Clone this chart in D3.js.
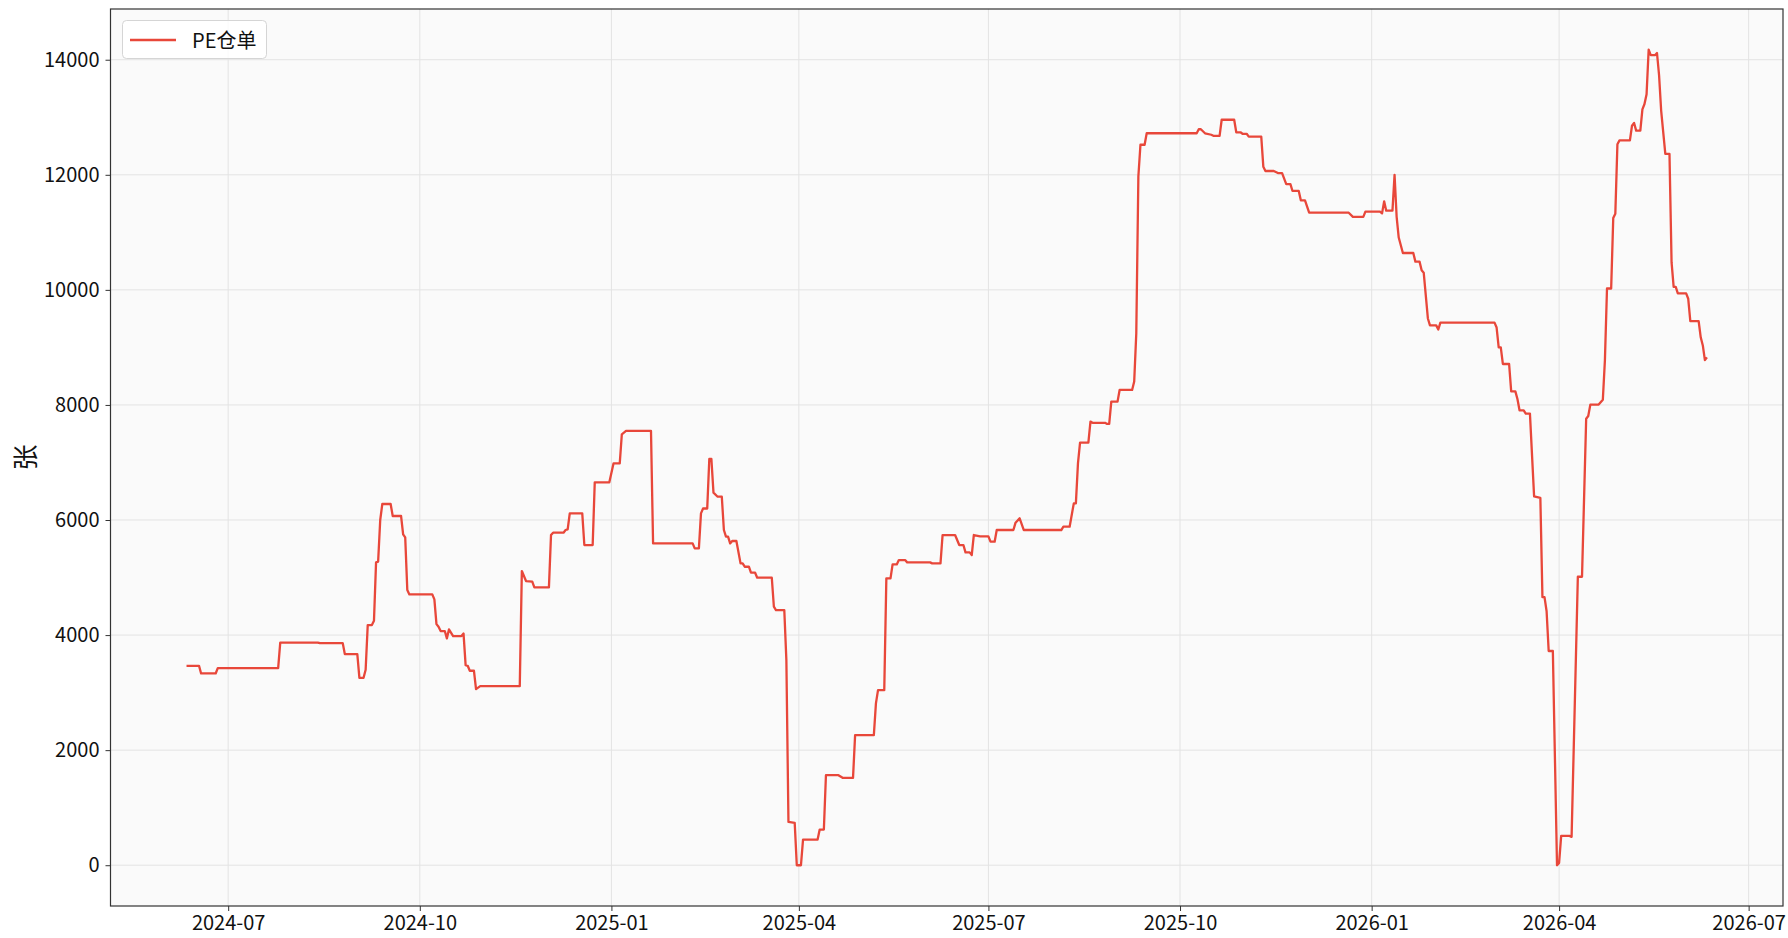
<!DOCTYPE html>
<html>
<head>
<meta charset="utf-8">
<script src="https://cdn.jsdelivr.net/npm/d3@7"></script>
<style>
  html, body { margin: 0; padding: 0; background: #ffffff; }
  svg { display: block; }
  text { font-family: "Noto Sans CJK SC", "Noto Sans", sans-serif; }
</style>
</head>
<body>
<svg id="chart" width="1788" height="938"></svg>
<script>
const seriesName = "PE仓单";
const yLabel = "张";
const dates = [
  "2024-06-11","2024-06-17","2024-06-18","2024-06-25","2024-06-26","2024-07-25","2024-07-26","2024-08-13","2024-08-14","2024-08-25",
  "2024-08-26","2024-09-01","2024-09-02","2024-09-04","2024-09-05","2024-09-06","2024-09-08","2024-09-09","2024-09-10","2024-09-11",
  "2024-09-12","2024-09-13","2024-09-17","2024-09-18","2024-09-22","2024-09-23","2024-09-24","2024-09-25","2024-09-26","2024-10-07",
  "2024-10-08","2024-10-09","2024-10-10","2024-10-11","2024-10-13","2024-10-14","2024-10-15","2024-10-17","2024-10-21","2024-10-22",
  "2024-10-23","2024-10-24","2024-10-25","2024-10-27","2024-10-28","2024-10-30","2024-11-18","2024-11-19","2024-11-21","2024-11-24",
  "2024-11-25","2024-12-02","2024-12-03","2024-12-04","2024-12-09","2024-12-10","2024-12-11","2024-12-12","2024-12-18","2024-12-19",
  "2024-12-23","2024-12-24","2024-12-31","2025-01-02","2025-01-05","2025-01-06","2025-01-08","2025-01-20","2025-01-21","2025-02-09",
  "2025-02-10","2025-02-12","2025-02-13","2025-02-14","2025-02-16","2025-02-17","2025-02-18","2025-02-19","2025-02-21","2025-02-23",
  "2025-02-24","2025-02-25","2025-02-26","2025-02-27","2025-02-28","2025-03-02","2025-03-04","2025-03-05","2025-03-06","2025-03-08",
  "2025-03-09","2025-03-11","2025-03-12","2025-03-19","2025-03-20","2025-03-21","2025-03-25","2025-03-26","2025-03-27","2025-03-30",
  "2025-03-31","2025-04-02","2025-04-03","2025-04-10","2025-04-11","2025-04-13","2025-04-14","2025-04-20","2025-04-22","2025-04-27",
  "2025-04-28","2025-05-07","2025-05-08","2025-05-09","2025-05-12","2025-05-13","2025-05-15","2025-05-16","2025-05-18","2025-05-19",
  "2025-05-22","2025-05-23","2025-06-03","2025-06-04","2025-06-08","2025-06-09","2025-06-15","2025-06-17","2025-06-19","2025-06-20",
  "2025-06-22","2025-06-23","2025-06-24","2025-06-27","2025-07-01","2025-07-02","2025-07-04","2025-07-05","2025-07-13","2025-07-14",
  "2025-07-16","2025-07-18","2025-08-05","2025-08-06","2025-08-09","2025-08-11","2025-08-12","2025-08-13","2025-08-14","2025-08-18",
  "2025-08-19","2025-08-20","2025-08-26","2025-08-27","2025-08-28","2025-08-29","2025-09-01","2025-09-02","2025-09-08","2025-09-09",
  "2025-09-10","2025-09-11","2025-09-12","2025-09-14","2025-09-15","2025-10-09","2025-10-10","2025-10-11","2025-10-13","2025-10-16",
  "2025-10-17","2025-10-20","2025-10-21","2025-10-27","2025-10-28","2025-10-30","2025-10-31","2025-11-02","2025-11-03","2025-11-09",
  "2025-11-10","2025-11-11","2025-11-15","2025-11-17","2025-11-19","2025-11-21","2025-11-23","2025-11-24","2025-11-27","2025-11-28",
  "2025-11-30","2025-12-02","2025-12-21","2025-12-23","2025-12-28","2025-12-29","2026-01-05","2026-01-06","2026-01-07","2026-01-08",
  "2026-01-11","2026-01-12","2026-01-13","2026-01-14","2026-01-16","2026-01-21","2026-01-22","2026-01-24","2026-01-25","2026-01-26",
  "2026-01-28","2026-01-29","2026-02-01","2026-02-02","2026-02-03","2026-03-01","2026-03-02","2026-03-03","2026-03-04","2026-03-05",
  "2026-03-08","2026-03-09","2026-03-11","2026-03-12","2026-03-13","2026-03-15","2026-03-16","2026-03-18","2026-03-20","2026-03-23",
  "2026-03-24","2026-03-25","2026-03-26","2026-03-27","2026-03-29","2026-03-31","2026-04-01","2026-04-02","2026-04-06","2026-04-07",
  "2026-04-10","2026-04-12","2026-04-14","2026-04-15","2026-04-16","2026-04-20","2026-04-22","2026-04-23","2026-04-24","2026-04-26",
  "2026-04-27","2026-04-28","2026-04-29","2026-04-30","2026-05-05","2026-05-06","2026-05-07","2026-05-08","2026-05-10","2026-05-11",
  "2026-05-12","2026-05-13","2026-05-14","2026-05-15","2026-05-17","2026-05-18","2026-05-19","2026-05-20","2026-05-22","2026-05-24",
  "2026-05-25","2026-05-26","2026-05-27","2026-05-28","2026-06-01","2026-06-02","2026-06-03","2026-06-07","2026-06-08","2026-06-09",
  "2026-06-10","2026-06-11"
];
const values = [
  3466,3466,3333,3333,3426,3426,3870,3870,3860,3860,
  3670,3670,3258,3258,3397,4174,4174,4249,5264,5278,
  6000,6278,6278,6070,6070,5751,5699,4783,4707,4707,
  4620,4191,4145,4070,4070,3942,4099,3983,3983,4026,
  3478,3466,3380,3380,3061,3113,3113,5113,4939,4928,
  4829,4829,5739,5780,5780,5826,5838,6116,6116,5565,
  5565,6655,6655,6983,6983,7490,7548,7548,5594,5594,
  5507,5507,6116,6200,6200,7061,7061,6475,6405,6405,
  5826,5710,5710,5594,5635,5635,5246,5246,5188,5188,
  5084,5084,4997,4997,4493,4435,4435,3565,753,736,
  0,0,446,446,620,620,1565,1565,1519,1519,
  2261,2261,2812,3043,3043,4986,4986,5228,5228,5304,
  5304,5264,5264,5246,5246,5739,5739,5565,5565,5438,
  5438,5391,5739,5716,5716,5623,5623,5826,5826,5951,
  6029,5826,5826,5884,5884,6290,6290,6985,7345,7345,
  7710,7690,7690,7670,7670,8058,8058,8261,8261,8406,
  9246,11971,12522,12522,12722,12722,12792,12792,12722,12696,
  12678,12678,12957,12957,12739,12739,12713,12713,12664,12664,
  12138,12066,12066,12030,12030,11838,11838,11719,11719,11557,
  11557,11341,11341,11269,11269,11359,11359,11329,11539,11377,
  11377,12000,11269,10910,10641,10641,10491,10491,10341,10299,
  9503,9383,9383,9311,9431,9431,9345,9000,9000,8712,
  8712,8236,8236,8104,7907,7907,7849,7849,6411,6386,
  4660,4660,4414,3723,3723,0,41,510,510,493,
  5014,5014,7761,7808,8006,8006,8091,8779,10024,10024,
  11250,11325,12532,12598,12598,12853,12900,12768,12768,13136,
  13230,13400,14173,14079,14079,14117,13730,13117,12363,12363,
  10477,10052,10052,9939,9939,9845,9458,9458,9175,9034,
  8779,8826
];
const yTicks = [0, 2000, 4000, 6000, 8000, 10000, 12000, 14000];

const parse = d3.utcParse("%Y-%m-%d");
const data = dates.map((d, i) => ({ date: parse(d), value: values[i] }));

const W = 1788, H = 938;
const margin = { left: 110.5, right: 5, top: 9, bottom: 32 };
const x0 = margin.left, x1 = W - margin.right, y0 = margin.top, y1 = H - margin.bottom;

const xExt = d3.extent(data, d => d.date);
const xSpan = xExt[1] - xExt[0];
const x = d3.scaleUtc()
  .domain([new Date(+xExt[0] - 0.05 * xSpan), new Date(+xExt[1] + 0.05 * xSpan)])
  .range([x0, x1]);
const yExt = d3.extent(values);
const ySpan = yExt[1] - yExt[0];
const y = d3.scaleLinear()
  .domain([yExt[0] - 0.05 * ySpan, yExt[1] + 0.05 * ySpan])
  .range([y1, y0]);

const svg = d3.select("#chart");
svg.append("rect").attr("x", 0).attr("y", 0).attr("width", W).attr("height", H).attr("fill", "#ffffff");
svg.append("rect").attr("x", x0).attr("y", y0).attr("width", x1 - x0).attr("height", y1 - y0).attr("fill", "#fafafa");

const xTickVals = x.ticks(d3.utcMonth.every(3));
// grid
const grid = svg.append("g");
grid.selectAll(".gx").data(xTickVals).enter().append("line")
  .attr("x1", d => x(d)).attr("x2", d => x(d)).attr("y1", y0).attr("y2", y1)
  .attr("stroke", "#e3e3e3").attr("stroke-width", 1);
grid.selectAll(".gy").data(yTicks).enter().append("line")
  .attr("x1", x0).attr("x2", x1).attr("y1", d => y(d)).attr("y2", d => y(d))
  .attr("stroke", "#e3e3e3").attr("stroke-width", 1);

// line
const line = d3.line().x(d => x(d.date)).y(d => y(d.value));
svg.append("path").datum(data).attr("d", line)
  .attr("fill", "none").attr("stroke", "#e8473a").attr("stroke-width", 2.3)
  .attr("stroke-linejoin", "round");

// axes
const xAxis = d3.axisBottom(x).tickValues(xTickVals).tickFormat(d3.utcFormat("%Y-%m")).tickSize(5).tickPadding(5);
const gx = svg.append("g").attr("transform", `translate(0,${y1})`).call(xAxis);
gx.select(".domain").remove();
gx.selectAll(".tick line").attr("stroke", "#333");
gx.selectAll(".tick text").attr("font-size", 20).attr("fill", "#111")
  .attr("font-family", "'Noto Sans CJK SC', sans-serif");

const yAxis = d3.axisLeft(y).tickValues(yTicks).tickFormat(d3.format("d")).tickSize(5).tickPadding(6);
const gy = svg.append("g").attr("transform", `translate(${x0},0)`).call(yAxis);
gy.select(".domain").remove();
gy.selectAll(".tick line").attr("stroke", "#333");
gy.selectAll(".tick text").attr("font-size", 20).attr("fill", "#111")
  .attr("font-family", "'Noto Sans CJK SC', sans-serif");

// frame
svg.append("rect").attr("x", x0).attr("y", y0).attr("width", x1 - x0).attr("height", y1 - y0)
  .attr("fill", "none").attr("stroke", "#333").attr("stroke-width", 1.2);

// y label
svg.append("text").attr("transform", `translate(35,${(y0 + y1) / 2}) rotate(-90)`)
  .attr("text-anchor", "middle").attr("font-size", 26).attr("fill", "#111").text(yLabel);

// legend
const lg = svg.append("g");
lg.append("rect").attr("x", 122.5).attr("y", 20.5).attr("width", 144).attr("height", 38).attr("rx", 4)
  .attr("fill", "#ffffff").attr("fill-opacity", 0.85).attr("stroke", "#d5d5d5").attr("stroke-width", 1);
lg.append("line").attr("x1", 130).attr("x2", 176).attr("y1", 40).attr("y2", 40)
  .attr("stroke", "#e8473a").attr("stroke-width", 2.3);
lg.append("text").attr("x", 192).attr("y", 47.5).attr("font-size", 20).attr("fill", "#111").text(seriesName);
</script>
</body>
</html>
